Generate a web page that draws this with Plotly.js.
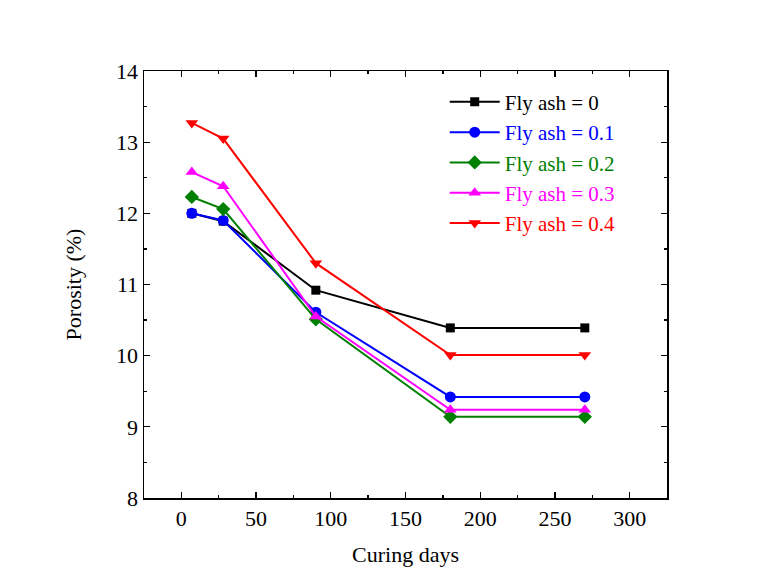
<!DOCTYPE html>
<html>
<head>
<meta charset="utf-8">
<script src="https://cdn.plot.ly/plotly-3.0.1.min.js"></script>
<style>body{margin:0;background:#fff}#chart{width:761px;height:587px}</style>
</head>
<body>
<div id="chart"></div>
<script>
const days = [7, 28, 90, 180, 270];
const flyAsh0  = [12.00, 11.89, 10.92, 10.39, 10.39];
const flyAsh01 = [12.00, 11.90, 10.61, 9.42, 9.42];
const flyAsh02 = [12.23, 12.06, 10.51, 9.14, 9.14];
const flyAsh03 = [12.58, 12.38, 10.55, 9.24, 9.24];
const flyAsh04 = [13.27, 13.05, 11.30, 10.01, 10.01];
const seriesNames = ['Fly ash = 0', 'Fly ash = 0.1', 'Fly ash = 0.2', 'Fly ash = 0.3', 'Fly ash = 0.4'];
const colors = ['#000000', '#0000ff', '#008000', '#ff00ff', '#ff0000'];
const symbols = ['square', 'circle', 'diamond', 'triangle-up', 'triangle-down'];
const values = [flyAsh0, flyAsh01, flyAsh02, flyAsh03, flyAsh04];

const traces = values.map((v, i) => ({
  x: days, y: v, type: 'scatter', mode: 'lines+markers',
  name: '<span style="color:' + colors[i] + '">' + seriesNames[i] + '</span>',
  line: {color: colors[i], width: 2},
  marker: {color: colors[i], symbol: symbols[i], size: symbols[i] === 'square' ? 9 : 11}
}));

const font = {family: '"Liberation Serif", "Times New Roman", serif', color: '#000'};
const layout = {
  width: 761, height: 587,
  margin: {l: 144, r: 94, t: 71, b: 89},
  paper_bgcolor: '#fff', plot_bgcolor: '#fff',
  font: Object.assign({size: 22}, font),
  showlegend: true,
  legend: {x: 0.575, y: 0.975, xanchor: 'left', yanchor: 'top', bgcolor: 'rgba(0,0,0,0)',
           font: Object.assign({size: 21}, font), itemwidth: 50, tracegroupgap: 0},
  xaxis: {
    range: [-25, 325], dtick: 50, tick0: 0,
    ticks: 'inside', ticklen: 6, tickwidth: 1.3, tickcolor: '#000',
    minor: {dtick: 25, ticks: 'inside', ticklen: 3, tickwidth: 1.3, tickcolor: '#000'},
    showline: true, linecolor: '#000', linewidth: 1.5, mirror: 'allticks',
    showgrid: false, zeroline: false,
    tickfont: Object.assign({size: 22}, font),
    title: {text: 'Curing days', font: Object.assign({size: 22}, font), standoff: 16}
  },
  yaxis: {
    range: [8, 14], dtick: 1,
    ticks: 'inside', ticklen: 6, tickwidth: 1.3, tickcolor: '#000',
    minor: {dtick: 0.5, ticks: 'inside', ticklen: 3, tickwidth: 1.3, tickcolor: '#000'},
    showline: true, linecolor: '#000', linewidth: 1.5, mirror: 'allticks',
    showgrid: false, zeroline: false,
    tickfont: Object.assign({size: 22}, font),
    title: {text: 'Porosity (%)', font: Object.assign({size: 22}, font), standoff: 28}
  }
};
Plotly.newPlot('chart', traces, layout, {displayModeBar: false, staticPlot: true});
</script>
</body>
</html>
